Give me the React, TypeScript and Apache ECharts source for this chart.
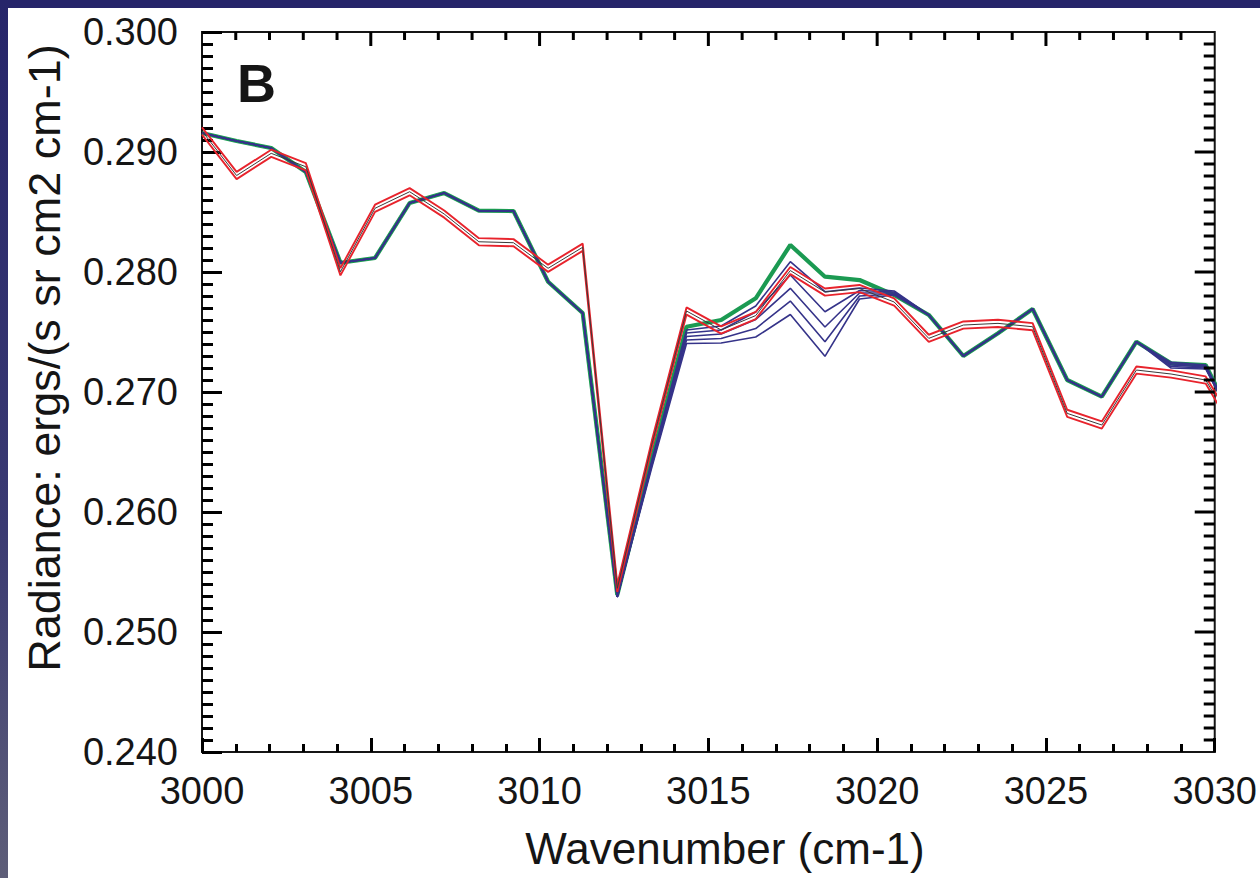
import React, { useEffect, useRef } from "react";
import * as echarts from "echarts";

// Wavenumber of each sample (cm-1)
const wavenumbers = [
  3000.0, 3001.025, 3002.05, 3003.076, 3004.101, 3005.126, 3006.151, 3007.176,
  3008.202, 3009.227, 3010.252, 3011.277, 3012.302, 3013.328, 3014.353, 3015.378,
  3016.403, 3017.428, 3018.454, 3019.479, 3020.504, 3021.529, 3022.554, 3023.58,
  3024.605, 3025.63, 3026.655, 3027.68, 3028.706, 3029.731, 3030.756,
];

// Green spectrum
const greenValues = [
  0.29158, 0.29092, 0.29033, 0.28833, 0.28077, 0.28117, 0.28575, 0.28658,
  0.28511, 0.28508, 0.27919, 0.27658, 0.25308, 0.2645, 0.27544, 0.276,
  0.27781, 0.28225, 0.27961, 0.27933, 0.27808, 0.27642, 0.273, 0.27489,
  0.27692, 0.271, 0.26961, 0.27419, 0.27239, 0.27225, 0.2665,
];

// Blue model spectra (top to bottom in the 3014-3020 fan)
const blue1 = [
  0.29158, 0.29092, 0.29033, 0.28833, 0.28077, 0.28117, 0.28575, 0.28658,
  0.28511, 0.28508, 0.27919, 0.27658, 0.25292, 0.26433, 0.27517, 0.2755,
  0.27717, 0.28086, 0.27836, 0.27867, 0.27842, 0.27642, 0.273, 0.27489,
  0.27692, 0.271, 0.26961, 0.27419, 0.27247, 0.27225, 0.2665,
];
const blue2 = [
  0.29158, 0.29092, 0.29033, 0.28833, 0.28077, 0.28117, 0.28575, 0.28658,
  0.28511, 0.28508, 0.27919, 0.27658, 0.25292, 0.26417, 0.27492, 0.27517,
  0.27667, 0.27975, 0.27669, 0.27846, 0.27833, 0.27642, 0.273, 0.27489,
  0.27692, 0.271, 0.26961, 0.27419, 0.27235, 0.27217, 0.2665,
];
const blue3 = [
  0.29158, 0.29092, 0.29033, 0.28833, 0.28077, 0.28117, 0.28575, 0.28658,
  0.28511, 0.28508, 0.27919, 0.27658, 0.25292, 0.26408, 0.27462, 0.27483,
  0.27604, 0.27864, 0.27542, 0.27825, 0.27825, 0.27642, 0.273, 0.27489,
  0.27692, 0.271, 0.26961, 0.27419, 0.27225, 0.27208, 0.2665,
];
const blue4 = [
  0.29158, 0.29092, 0.29033, 0.28833, 0.28077, 0.28117, 0.28575, 0.28658,
  0.28511, 0.28508, 0.27919, 0.27658, 0.25292, 0.26392, 0.27433, 0.27446,
  0.27529, 0.27758, 0.27419, 0.278, 0.27817, 0.27642, 0.273, 0.27489,
  0.27692, 0.271, 0.26961, 0.27419, 0.27212, 0.272, 0.2665,
];
const blue5 = [
  0.29158, 0.29092, 0.29033, 0.28833, 0.28077, 0.28117, 0.28575, 0.28658,
  0.28511, 0.28508, 0.27919, 0.27658, 0.25292, 0.26375, 0.27404, 0.27408,
  0.27458, 0.27646, 0.27297, 0.27775, 0.27808, 0.27642, 0.273, 0.27489,
  0.27692, 0.271, 0.26961, 0.27419, 0.272, 0.27192, 0.2665,
];

// Red model: centre (black) and its upper / lower bounds (red)
const redCenter = [
  0.29175, 0.28804, 0.28989, 0.28877, 0.28002, 0.28531, 0.28669, 0.28483,
  0.28252, 0.28244, 0.28031, 0.28206, 0.25364, 0.26567, 0.27675, 0.27517,
  0.27637, 0.28012, 0.27833, 0.27862, 0.2775, 0.27447, 0.27558, 0.27572,
  0.27544, 0.26822, 0.26725, 0.27183, 0.2715, 0.271, 0.26619,
];
const redUpper = [
  0.29205, 0.28834, 0.29019, 0.28907, 0.28032, 0.28561, 0.28699, 0.28513,
  0.28282, 0.28274, 0.28061, 0.28236, 0.25394, 0.26597, 0.27705, 0.27547,
  0.27667, 0.28042, 0.27863, 0.27892, 0.2778, 0.27477, 0.27588, 0.27602,
  0.27574, 0.26852, 0.26755, 0.27213, 0.2718, 0.2713, 0.26649,
];
const redLower = [
  0.29145, 0.28774, 0.28959, 0.28847, 0.27972, 0.28501, 0.28639, 0.28453,
  0.28222, 0.28214, 0.28001, 0.28176, 0.25334, 0.26537, 0.27645, 0.27487,
  0.27607, 0.27982, 0.27803, 0.27832, 0.2772, 0.27417, 0.27528, 0.27542,
  0.27514, 0.26792, 0.26695, 0.27153, 0.2712, 0.2707, 0.26589,
];

const xMin = 3000;
const xMax = 3030;
const xStep = 5;
const xMinorSplit = 5;
const yMin = 0.24;
const yMax = 0.3;
const yStep = 0.01;
const yMinorSplit = 10;

const panelLetter = "B";
const xTitle = "Wavenumber (cm-1)";
const yTitle = "Radiance: ergs/(s sr cm2 cm-1)";

const FONT = "'Liberation Sans', Arial, Helvetica, sans-serif";
const INK = "#151515";
const GREEN = "#1b9a52";
const BLUE = "#353389";
const RED = "#e8232c";
const NAVY = "#26256a";

// tick positions for the top and right frame edges (axis decoration, not data)
const xFrameTicks: number[] = [];
for (let k = 1; k < (xMax - xMin); k++) xFrameTicks.push(xMin + k);
const yFrameTicks: number[] = [];
for (let k = 1; k < 60; k++) yFrameTicks.push(+(yMin + k * 0.001).toFixed(4));

function pairs(ys: number[]) {
  return ys.map((y, i) => [wavenumbers[i], y]);
}

function lineSeries(ys: number[], color: string, width: number, z: number) {
  return {
    type: "line",
    data: pairs(ys),
    showSymbol: false,
    z,
    lineStyle: { color, width },
  };
}

function topTicks() {
  return {
    type: "custom",
    silent: true,
    z: 6,
    data: xFrameTicks.map((v) => [v, yMax]),
    encode: { x: 0, y: 1 },
    renderItem: (_params: any, api: any) => {
      const v = api.value(0);
      const p = api.coord([v, yMax]);
      const major = v % xStep === 0;
      const len = major ? 14 : 8;
      return {
        type: "line",
        shape: { x1: p[0], y1: p[1], x2: p[0], y2: p[1] + len },
        style: { stroke: "#000000", lineWidth: 3 },
      };
    },
  };
}

function rightTicks() {
  return {
    type: "custom",
    silent: true,
    z: 6,
    data: yFrameTicks.map((v) => [xMax, v]),
    encode: { x: 0, y: 1 },
    renderItem: (params: any, api: any) => {
      const v = api.value(1);
      const p = api.coord([xMax, v]);
      const major = (params.dataIndex + 1) % 10 === 0;
      const len = major ? 20 : 11;
      return {
        type: "line",
        shape: { x1: p[0], y1: p[1], x2: p[0] - len, y2: p[1] },
        style: { stroke: "#000000", lineWidth: 3 },
      };
    },
  };
}

export default function App() {
  const ref = useRef<HTMLDivElement>(null);

  useEffect(() => {
    if (!ref.current) return;
    const chart = echarts.init(ref.current, null, { renderer: "svg" });

    chart.setOption({
      animation: false,
      grid: { left: 202, top: 32, right: 45, bottom: 126, show: true, borderColor: INK, borderWidth: 2 },
      xAxis: {
        type: "value",
        min: xMin,
        max: xMax,
        interval: xStep,
        splitLine: { show: false },
        axisLine: { lineStyle: { color: INK, width: 2 } },
        axisTick: { show: true, inside: true, length: 14, lineStyle: { color: "#000000", width: 3 } },
        minorTick: { show: true, splitNumber: xMinorSplit, length: 8, lineStyle: { color: "#000000", width: 3 } },
        axisLabel: { fontFamily: FONT, fontSize: 38, color: INK, margin: 20, formatter: (v: number) => String(Math.round(v)) },
      },
      yAxis: {
        type: "value",
        min: yMin,
        max: yMax,
        interval: yStep,
        splitLine: { show: false },
        axisLine: { lineStyle: { color: INK, width: 2 } },
        axisTick: { show: true, inside: true, length: 20, lineStyle: { color: "#000000", width: 3 } },
        minorTick: { show: true, splitNumber: yMinorSplit, length: 11, lineStyle: { color: "#000000", width: 3 } },
        axisLabel: { fontFamily: FONT, fontSize: 38, color: INK, margin: 24, formatter: (v: number) => v.toFixed(3) },
      },
      graphic: [
        { type: "rect", z: -10, shape: { x: 0, y: 0, width: 1260, height: 8 }, style: { fill: NAVY } },
        {
          type: "rect",
          z: -10,
          shape: { x: 0, y: 0, width: 8, height: 878 },
          style: {
            fill: {
              type: "linear", x: 0, y: 0, x2: 0, y2: 1,
              colorStops: [
                { offset: 0, color: NAVY },
                { offset: 0.6, color: "#3a3a72" },
                { offset: 1, color: "#5e5e78" },
              ],
            },
          },
        },
        { type: "text", left: 237, top: 56, style: { text: panelLetter, font: `bold 54px ${FONT}`, fill: INK } },
        {
          type: "text",
          x: 725,
          y: 848,
          style: { text: xTitle, font: `44px ${FONT}`, fill: INK, align: "center", verticalAlign: "middle" },
        },
        {
          type: "text",
          x: 44,
          y: 358,
          rotation: Math.PI / 2,
          style: { text: yTitle, font: `45px ${FONT}`, fill: INK, align: "center", verticalAlign: "middle" },
        },
      ],
      series: [
        lineSeries(greenValues, GREEN, 4.2, 2),
        lineSeries(blue1, BLUE, 1.6, 3),
        lineSeries(blue2, BLUE, 1.6, 3),
        lineSeries(blue3, BLUE, 1.6, 3),
        lineSeries(blue4, BLUE, 1.6, 3),
        lineSeries(blue5, BLUE, 1.6, 3),
        lineSeries(redLower, RED, 1.9, 4),
        lineSeries(redUpper, RED, 1.9, 4),
        lineSeries(redCenter, "#3a3a3a", 1, 5),
        topTicks(),
        rightTicks(),
      ],
    } as any);
    return () => chart.dispose();
  }, []);

  return <div ref={ref} style={{ position: "fixed", left: 0, top: 0, width: 1260, height: 878, background: "#ffffff" }} />;
}
